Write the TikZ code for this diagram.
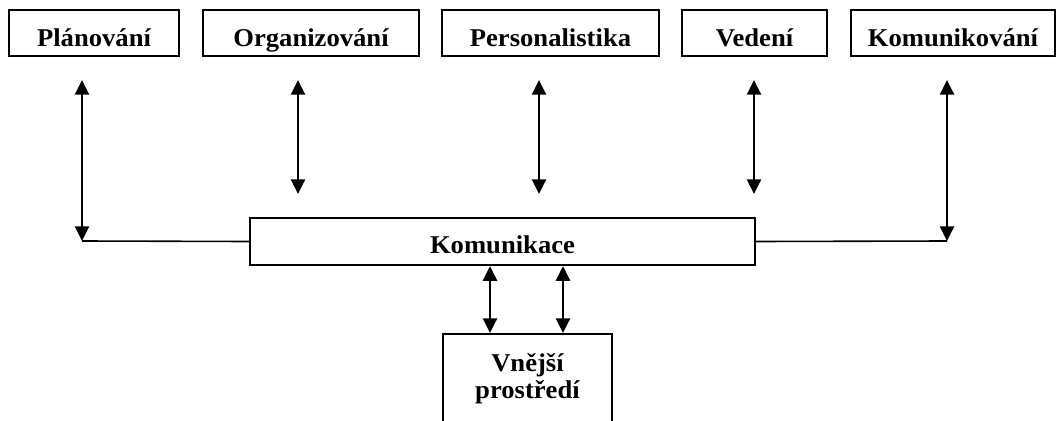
\documentclass[tikz,border=0pt]{standalone}
\usepackage{fontspec}
\setmainfont{Liberation Serif}[FakeStretch=1.04]
\usepackage{tikz}
\usetikzlibrary{positioning, arrows.meta}

\begin{document}
\begin{tikzpicture}[x=0.75pt, y=-0.75pt,
    >={Triangle[length=11pt, width=10.5pt]},
    box/.style={draw, line width=1.7pt, rectangle, inner xsep=0pt, inner ysep=0pt,
        font=\fontsize{19.2}{20.25}\selectfont\bfseries},
    topbox/.style={box, minimum height=0pt, text height=27.5pt, text depth=7pt},
    link/.style={<->, line width=1.8pt},
    joint/.style={line width=1.2pt}]
    \clip (0,0) rectangle (1061,421);

    % the five functions along the top
    \node[topbox, minimum width=127.5pt] (plan) at (94,33) {Plánování};
    \node[topbox, minimum width=162pt] (org) at (311,33) {Organizování};
    \node[topbox, minimum width=162.75pt] (pers) at (550.5,33) {Personalistika};
    \node[topbox, minimum width=108.75pt] (ved) at (754.5,33) {Vedení};
    \node[topbox, minimum width=153pt] (komv) at (953,33) {Komunikování};

    % communication bar in the middle
    \node[box, minimum width=378.75pt, text height=26.25pt, text depth=9pt] (kom) at (502.5,241.5) {Komunikace};

    % outside world, cut off at the bottom
    \node[box, anchor=north, minimum width=126.75pt, text height=48pt, text depth=47.25pt, align=center] (ext) at (527.5,333) {Vnější\\prostředí};

    % free ends of the arrows
    \coordinate (plan-up) at (82,80);
    \coordinate (plan-dn) at (82,241);
    \coordinate (org-up) at (298,80);
    \coordinate (org-dn) at (298,194);
    \coordinate (pers-up) at (539,80);
    \coordinate (pers-dn) at (539,194);
    \coordinate (ved-up) at (754,80);
    \coordinate (ved-dn) at (754,194);
    \coordinate (komv-up) at (947,80);
    \coordinate (komv-dn) at (947,241);
    \coordinate (ext-a) at (490,0);
    \coordinate (ext-b) at (563,0);

    % Plánování and Komunikování, bent into the bar
    \draw[link] (plan-up) -- (plan-dn);
    \draw[joint] (plan-dn) -- (kom.west);
    \draw[link] (komv-up) -- (komv-dn);
    \draw[joint] (komv-dn) -- (kom.east);

    % the three in the middle stand free
    \draw[link] (org-up) -- (org-dn);
    \draw[link] (pers-up) -- (pers-dn);
    \draw[link] (ved-up) -- (ved-dn);

    % bar to the outside world
    \draw[link] (kom.south -| ext-a) -- (ext.north -| ext-a);
    \draw[link] (kom.south -| ext-b) -- (ext.north -| ext-b);
\end{tikzpicture}
\end{document}
